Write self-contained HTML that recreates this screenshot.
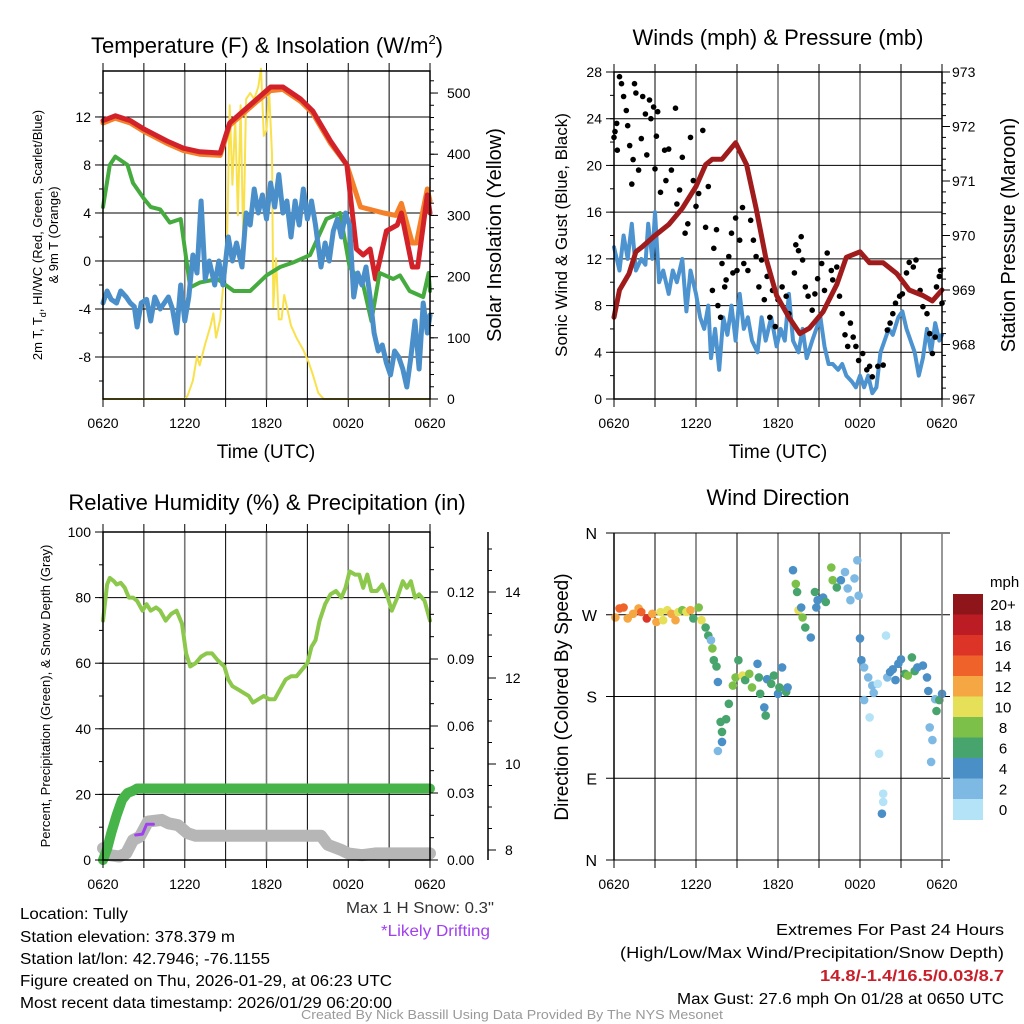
<!DOCTYPE html>
<html><head><meta charset="utf-8"><style>
html,body{margin:0;padding:0;background:#fff;}
svg{display:block;font-family:"Liberation Sans",sans-serif;}
</style></head><body>
<svg id="s" width="1024" height="1024" viewBox="0 0 1024 1024" xmlns="http://www.w3.org/2000/svg">
<rect width="1024" height="1024" fill="#fff"/>
<g id="g"></g>
<g font-size="15.5" fill="#000">
<text x="20" y="919" textLength="108" lengthAdjust="spacingAndGlyphs">Location: Tully</text>
<text x="20" y="942" textLength="215" lengthAdjust="spacingAndGlyphs">Station elevation: 378.379 m</text>
<text x="20" y="964" textLength="250" lengthAdjust="spacingAndGlyphs">Station lat/lon: 42.7946; -76.1155</text>
<text x="20" y="986" textLength="372" lengthAdjust="spacingAndGlyphs">Figure created on Thu, 2026-01-29, at 06:23 UTC</text>
<text x="20" y="1008" textLength="372" lengthAdjust="spacingAndGlyphs">Most recent data timestamp: 2026/01/29 06:20:00</text>
<text x="346" y="913" textLength="148" lengthAdjust="spacingAndGlyphs" fill="#333">Max 1 H Snow: 0.3"</text>
<text x="381" y="936" textLength="109" lengthAdjust="spacingAndGlyphs" fill="#a040f0">*Likely Drifting</text>
<text x="1004" y="935" text-anchor="end" textLength="228" lengthAdjust="spacingAndGlyphs">Extremes For Past 24 Hours</text>
<text x="1004" y="958" text-anchor="end" textLength="384" lengthAdjust="spacingAndGlyphs">(High/Low/Max Wind/Precipitation/Snow Depth)</text>
<text x="1004" y="981" text-anchor="end" textLength="184" lengthAdjust="spacingAndGlyphs" fill="#c8202a" font-weight="bold">14.8/-1.4/16.5/0.03/8.7</text>
<text x="1004" y="1004" text-anchor="end" textLength="327" lengthAdjust="spacingAndGlyphs">Max Gust: 27.6 mph On 01/28 at 0650 UTC</text>
<text x="512" y="1019" text-anchor="middle" font-size="13" fill="#999" textLength="422" lengthAdjust="spacingAndGlyphs">Created By Nick Bassill Using Data Provided By The NYS Mesonet</text>
</g>
<g>
<text x="267" y="53" font-size="22" text-anchor="middle">Temperature (F) &amp; Insolation (W/m<tspan font-size="13" dy="-9">2</tspan><tspan dy="9">)</tspan></text>
<text transform="translate(42,235) rotate(-90)" font-size="13" text-anchor="middle">2m T, T<tspan font-size="9" dy="4">d</tspan><tspan dy="-4">, HI/WC (Red, Green, Scarlet/Blue)</tspan></text>
<text transform="translate(58,235) rotate(-90)" font-size="13" text-anchor="middle">&amp; 9m T (Orange)</text>
</g>
</svg>
<script>
// ---------- data ----------
const timeLabels=["0620","1220","1820","0020","0620"];
const tempT=[0,0.9,2,3,4.7,5.9,7.1,8.6,9.3,10.3,11.3,12.3,13.2,14.5,15.4,16.7,17.9,18.6,19.1,19.6,20,20.8,21.6,21.9,22.7,23.1,23.8,24];
const tempV=[11.7,12.1,11.7,11,10,9.4,9.1,9,11.5,12.5,13.5,14.5,14.5,13.5,12.5,10,8,1,0.5,1,-1.5,2.5,3,4,-0.5,-0.5,5.5,4];
const t9T=[0,0.9,2,3,4.7,5.9,7.1,8.6,9.3,10.3,11.3,12.3,13.2,14.5,15.4,16.7,17.9,18.9,20.6,21.5,21.9,22.7,23,23.8,24];
const t9V=[11.5,11.9,11.5,10.8,9.8,9.2,8.9,8.8,11.3,12.3,13.3,14.2,14.3,13.3,12.3,9.8,8,4.5,4,3.8,4.8,1.5,1.5,6,5];
const dewT=[0,0.5,0.9,1.8,2.2,3,3.5,4.2,4.9,5.7,6.4,7.1,8.4,9.6,10.8,12,13,14,15.2,16.4,17.4,18.1,19.1,19.7,20.3,21.3,21.8,22.5,23.5,23.9,24];
const dewV=[4.5,8,8.7,8,6.5,5.2,4.5,4.3,3.2,3.5,-2.2,-1.8,-1.5,-2.5,-2.5,-1.2,-0.5,-0.1,0.5,3.5,4,-0.5,-2,-5,-1,-1.5,-1.2,-2.5,-3,-1,-2.5];
const wcT=[0,0.3,0.6,1,1.3,1.7,2,2.3,2.5,2.8,3.2,3.5,3.8,4.2,4.5,4.8,5.1,5.4,5.7,6,6.3,6.6,6.9,7.2,7.5,7.8,8.2,8.5,8.8,9.2,9.5,9.8,10.2,10.5,10.8,11.1,11.4,11.7,12,12.3,12.6,12.9,13.2,13.5,13.8,14.1,14.4,14.7,15,15.3,15.6,16,16.3,16.6,16.9,17.2,17.5,17.8,18.1,18.4,18.7,19,19.3,19.6,19.9,20.2,20.5,20.8,21.1,21.4,21.7,22,22.3,22.6,22.9,23.2,23.5,23.8,24];
const wcV=[-3.5,-2.5,-3.2,-3.5,-2.5,-3,-3.5,-3.8,-5.5,-3.5,-3.2,-5,-3,-4,-3.5,-3,-4,-6,-2,-5,-3,0.5,-1,5,-1.5,0,-2,0,-2,2,0,1.5,-0.5,4,3,6,4,5.5,3.5,6.5,4.5,7.2,4,5,2,5,3,6,3.5,5,3,-0.5,1.5,0,2.5,3.5,2,4,3,-3,-1,-2,-0.5,-3,-6,-7.5,-7,-8.5,-9.5,-7.5,-8,-9,-10.5,-8,-5,-9,-3.5,-6,-4.5];
const solT=[0,6,6.2,6.6,6.9,7.1,7.5,7.9,8.1,8.3,8.6,8.8,9.1,9.3,9.5,9.7,9.9,10.1,10.3,10.5,10.8,11.1,11.4,11.6,11.8,12,12.2,12.4,12.5,12.7,12.9,13.1,13.3,13.5,13.8,14.2,14.7,15.1,15.4,15.8,16.2,24];
const solV=[0,0,5,30,70,55,90,120,140,100,130,180,250,480,350,460,300,480,250,490,500,490,510,540,430,440,500,400,150,230,130,130,170,150,120,100,80,60,40,10,0,0];
const presT=[0,0.4,1.1,1.6,2.1,3,4,5,6,6.7,7.2,7.9,8.9,9.7,10.4,11.1,11.9,12.8,13.6,14.3,15.3,16.3,17,18,18.7,19.7,20.7,21.6,22.6,23.3,24];
const presV=[968.5,969.0,969.3,969.7,969.8,970.0,970.2,970.5,970.9,971.3,971.4,971.4,971.7,971.3,970.5,969.6,968.9,968.5,968.2,968.3,968.6,969.1,969.6,969.7,969.5,969.5,969.3,969.0,968.9,968.8,969.0];
const windT=[0,0.4,0.7,1,1.3,1.6,2,2.3,2.5,2.8,3,3.3,3.6,4,4.3,4.6,5,5.3,5.6,6,6.3,6.6,6.9,7.1,7.4,7.7,8,8.3,8.6,8.9,9.2,9.5,9.8,10.1,10.5,10.8,11.1,11.5,11.9,12.2,12.5,12.8,13.1,13.5,13.8,14.1,14.5,14.8,15.1,15.4,15.7,16,16.4,16.7,17,17.4,17.7,18,18.3,18.6,18.9,19.2,19.5,19.8,20.1,20.4,20.8,21.1,21.4,21.7,22,22.3,22.6,22.9,23.2,23.5,23.8,24];
const windV=[13,11,14,12,15,11,12,11.5,15,12,16,10,11,9,11,10,12,7.5,11,9,7,6,8,3.5,6,2.5,7,5.5,8,5,9,6,7,5,4,7,5,7,4.5,6,5,9,5,4,6,3.5,5,6,7,4.5,3,3,2.5,3,2,1.5,1,2,1,2,0.5,1,4,5,6,5.5,7,7.5,6,5,4,2,3.5,6,4,6.5,5,5.5];
const gustT=[0,0.07,0.2,0.24,0.4,0.55,0.7,0.9,1,1.15,1.3,1.4,1.5,1.6,1.8,2,2.1,2.3,2.4,2.6,2.7,2.9,3,3.1,3.2,3.4,3.7,3.8,4,4.2,4.5,4.6,4.8,5,5.2,5.4,5.6,5.8,6,6.2,6.5,6.7,6.9,7.2,7.3,7.5,7.6,7.8,7.9,8.1,8.2,8.4,8.6,8.7,8.9,9,9.2,9.4,9.5,9.8,10,10.2,10.4,10.6,10.8,11,11.2,11.4,11.6,11.8,12,12.3,12.6,12.8,13.2,13.3,13.5,13.7,13.8,14,14.2,14.5,14.7,14.9,15.2,15.4,15.6,15.9,16,16.3,16.5,16.7,16.9,17.1,17.3,17.5,17.7,17.9,18.2,18.5,18.7,18.9,19.3,19.7,20,20.2,20.4,20.6,20.9,21.1,21.4,21.6,21.9,22.1,22.4,22.6,22.9,23.1,23.3,23.5,23.6,23.8,23.9,24];
const gustV=[22.4,22.9,23.6,21.3,27.6,27,25.9,24.7,23.4,21.7,18.4,20.5,27,26.2,19.6,22.3,25.9,24.4,20.9,25.6,24,25,19.7,22.5,24.6,17.7,21.3,18.7,21.4,19.6,24.9,16.7,17.9,20.7,14.2,15,22.4,18.7,16.5,17.6,23,14.7,18.2,9.3,12.9,14.5,8,7,11.6,9.6,10.2,12.2,14.2,10.8,15.5,11,13.6,16.4,11.6,11,15.3,13.6,12.2,9.6,11.9,8.5,10.5,7,9.3,6.2,8.5,9.6,8.8,7.3,10.8,13.2,12.7,13.9,11.9,9.6,8.8,7.6,9,10.3,11.6,9.3,12.5,11,10.2,11.3,8.8,7.3,5.5,4.5,6.5,5.3,4.5,3.3,3.9,2.5,2.8,1.9,2.8,2.9,5.9,6.5,7.3,8.2,8.8,9,10.8,11.7,11.3,11.9,9.3,7.9,7.3,5.6,3.9,5.3,9.6,10.5,11,8.2];
const rhT=[0,0.3,0.5,0.8,1,1.3,1.6,1.9,2.2,2.5,2.9,3.2,3.5,3.9,4.2,4.6,5,5.4,5.8,6.1,6.4,6.8,7.2,7.6,8,8.4,8.9,9.2,9.5,9.9,10.3,10.7,11,11.4,11.8,12.2,12.6,13,13.4,13.8,14.2,14.6,15,15.3,15.6,15.9,16.3,16.7,17.1,17.5,17.8,18.1,18.5,18.8,19.1,19.4,19.7,20.1,20.5,20.9,21.2,21.6,22,22.3,22.6,22.9,23.2,23.6,24];
const rhV=[73,84,86,85,84,84.5,83,80,80,79,76,78,76,77,76,73,75,76,72,63,59,60,62,63,63,61,59,55,53,52,51,50,48,49,50,49,49,52,55,56,56,58,60,65,67,73,78,81,82,80,83,88,87,87,83,87,82,82,84,80,76,80,85,83,85,80,81,79,73];
const precT=[0,0.3,0.6,1,1.4,1.8,2.2,2.5,24];
const precV=[0,0.005,0.012,0.02,0.027,0.03,0.031,0.032,0.032];
const snowT=[0,0.5,1.2,1.7,2.2,2.7,3.3,4.3,4.8,5.5,6.2,6.8,16,16.5,17.5,18,19,20,24];
const snowV=[8.04,7.88,7.85,7.92,8.23,8.31,8.66,8.70,8.62,8.58,8.39,8.33,8.33,8.12,8.0,7.92,7.88,7.92,7.92];
const driftT=[2.4,2.9,3.2,3.7];
const driftV=[8.35,8.37,8.6,8.6];
const dirT=[0.1,0.4,0.7,1,1.4,1.8,2,2.4,2.8,3.1,3.4,3.6,3.9,4.2,4.5,4.7,5,5.3,5.6,5.8,6.2,6.4,6.7,6.9,7.1,7.2,7.3,7.5,7.6,7.8,7.9,7.6,7.9,8.2,8.4,8.7,8.9,9.1,9.4,9.6,9.9,10.1,10.5,10.6,10.7,11,11.1,11.2,11.5,11.7,12,12.1,12.3,12.6,12.7,13.1,13.3,13.4,13.5,13.7,13.8,14,14.4,14.7,14.8,14.9,15.3,15.5,15.9,16,16.3,16.6,16.9,17.1,17.3,17.6,17.8,17.9,18,18.1,18.3,18.6,18.3,18.7,18.9,19,19.3,19.4,19.7,19.7,19.6,19.9,20,20.2,20.4,20.6,20.8,21,21.3,21.5,21.8,22,22.2,22.6,22.9,23,23.1,23.3,23.2,23.5,23.6,23.8,24];
const dirDeg=[267,277,278,266,271,277,273,266,271,262,273,264,275,271,264,273,275,273,275,266,278,264,256,247,242,233,220,213,196,152,141,120,130,155,172,192,201,220,203,198,205,190,216,201,183,168,159,199,194,203,183,190,212,185,190,319,304,295,275,278,267,256,245,295,278,286,289,284,322,308,300,308,317,299,286,310,330,291,244,220,212,201,176,157,192,184,194,117,73,64,51,247,201,207,210,198,216,221,205,203,223,208,212,214,201,186,146,132,108,177,164,176,183];
const dirSpd=[13,15,15,12,13,12,15,16,13,12,11,10,11,12,12,10,8,11,12,7,8,10,6,6,3,8,6,6,4,6,6,2,4,6,6,8,8,6,10,6,8,8,4,6,6,4,6,4,6,6,4,6,4,6,4,4,8,6,10,4,8,6,4,6,4,4,4,6,8,8,6,4,2,2,2,2,2,2,4,4,2,2,2,1,2,2,1,1,1,1,4,1,2,4,4,4,4,4,6,8,6,6,4,4,4,4,2,2,2,2,6,6,4];
const speedLabels=["0","2","4","6","8","10","12","14","16","18","20+"];
const speedColors=["#b4e2f6","#7db9e3","#4a8fc6","#48a46d","#7cc04a","#e6df58","#f5a744","#ef632b","#dc3427","#bc1c24","#8e151a"];

// ---------- helpers ----------
const NS="http://www.w3.org/2000/svg";
const G=document.getElementById('g');
function el(tag,attrs,name,parent){
  const e=document.createElementNS(NS,tag);
  for(const k in attrs)e.setAttribute(k,attrs[k]);
  
  
  (parent||G).appendChild(e);return e;
}
function txt(x,y,s,size,name,opts){
  const e=el('text',Object.assign({x:x,y:y,'font-size':size,fill:'#000'},opts||{}),name);
  e.textContent=s;return e;
}
function makePanel(x0,x1,y0,y1){
  return {x0,x1,y0,y1,X:t=>x0+(x1-x0)*t/24};
}
function lin(v0,v1,p0,p1){return v=>p0+(v-v0)*(p1-p0)/(v1-v0);}
function grid(P,yTicks,Y,name){
  for(let h=3;h<24;h+=3){
    const x=P.X(h);const major=(h%6===0);
    el('line',{x1:x,y1:P.y0,x2:x,y2:P.y1,stroke:major?'#777':'#000','stroke-width':major?1.6:1},name+'-vgrid');
  }
  yTicks.forEach(v=>{const y=Y(v);
    el('line',{x1:P.x0,y1:y,x2:P.x1,y2:y,stroke:'#000','stroke-width':1},name+'-hgrid');});
}
function frame(P,name){
  el('rect',{x:P.x0,y:P.y0,width:P.x1-P.x0,height:P.y1-P.y0,fill:'none',stroke:'#000','stroke-width':1.5},name+'-frame');
  for(let h=0;h<=24;h+=3){const x=P.X(h);
    el('line',{x1:x,y1:P.y1,x2:x,y2:P.y1+8,stroke:'#000','stroke-width':1},name+'-xtick');
    el('line',{x1:x,y1:P.y0,x2:x,y2:P.y0-8,stroke:'#000','stroke-width':1},name+'-xtick-top');}
  timeLabels.forEach((s,i)=>txt(P.X(i*6),P.y1+29,s,14,name+'-xtick-label',{'text-anchor':'middle'}));
}
function poly(P,T,V,Y,stroke,w,name){
  const pts=T.map((t,i)=>P.X(t).toFixed(1)+','+Y(V[i]).toFixed(1)).join(' ');
  return el('polyline',{points:pts,fill:'none',stroke:stroke,'stroke-width':w,'stroke-linejoin':'round','stroke-linecap':'round'},name);
}
function leftTicks(P,Y,major,minor,fmt,name,dx){
  minor.forEach(v=>el('line',{x1:P.x0-4,y1:Y(v),x2:P.x0,y2:Y(v),stroke:'#000','stroke-width':1},name+'-minor-tick'));
  major.forEach(v=>{el('line',{x1:P.x0-8,y1:Y(v),x2:P.x0,y2:Y(v),stroke:'#000','stroke-width':1},name+'-tick');
    txt(P.x0-(dx||12),Y(v)+5,fmt(v),14,name+'-tick-label',{'text-anchor':'end'});});
}
function rightTicks(ax,Y,major,minor,fmt,name,lx,size){
  minor.forEach(v=>el('line',{x1:ax,y1:Y(v),x2:ax+4,y2:Y(v),stroke:'#000','stroke-width':1},name+'-minor-tick'));
  major.forEach(v=>{el('line',{x1:ax,y1:Y(v),x2:ax+8,y2:Y(v),stroke:'#000','stroke-width':1},name+'-tick');
    txt(lx,Y(v)+5,fmt(v),size||14,name+'-tick-label');});
}
function range(a,b,s){const r=[];for(let v=a;v<=b+1e-9;v+=s)r.push(+v.toFixed(4));return r;}

// ---------- Panel 1: Temperature ----------
(function(){
  const P=makePanel(103,430,71,399);
  const Y=lin(-11.5,15.83,399,71);
  const Ys=lin(0,536,399,71);
  grid(P,[-8,-4,0,4,8,12],Y,'temp');
  poly(P,solT,solV,Ys,'#f9e14b',2,'solar-line');
  poly(P,t9T,t9V,Y,'#f4812a',5,'temp-9m-line');
  poly(P,tempT,tempV,Y,'#d3212a',5,'temp-2m-line');
  poly(P,dewT,dewV,Y,'#45ab3f',4,'dewpoint-line');
  poly(P,wcT,wcV,Y,'#4a8fc9',5,'windchill-line');
  frame(P,'temp');
  leftTicks(P,Y,[-8,-4,0,4,8,12],range(-10,14,2),v=>String(v),'temp-y');
  rightTicks(P.x1,Ys,range(0,500,100),range(20,520,20),v=>String(v),'solar-y',447);
  txt(266,458,'Time (UTC)',19,'temp-x-title',{'text-anchor':'middle'});
  txt(0,0,'Solar Insolation (Yellow)',20,'solar-y-title',{'text-anchor':'middle',transform:'translate(501,235) rotate(-90)'});
})();

// ---------- Panel 2: Winds ----------
(function(){
  const P=makePanel(614,942,72,399);
  const Y=lin(0,28,399,72);
  const Yp=lin(967,973,399,72);
  grid(P,[4,8,12,16,20,24],Y,'wind');
  poly(P,windT,windV,Y,'#4c93d0',4,'wind-speed-line');
  gustT.forEach((t,i)=>{
    const c=el('circle',{cx:P.X(t).toFixed(1),cy:Y(gustV[i]).toFixed(1),r:2.8,fill:'#000'},'gust-point');
  });
  poly(P,presT,presV,Yp,'#a01b1b',5,'pressure-line');
  frame(P,'wind');
  leftTicks(P,Y,range(0,28,4),range(2,26,2),v=>String(v),'wind-y');
  rightTicks(P.x1,Yp,range(967,973,1),range(967.2,972.8,0.2),v=>String(v),'pressure-y',952);
  txt(778,45,'Winds (mph) & Pressure (mb)',22,'wind-title',{'text-anchor':'middle'});
  txt(778,458,'Time (UTC)',19,'wind-x-title',{'text-anchor':'middle'});
  txt(0,0,'Sonic Wind & Gust (Blue, Black)',17,'wind-y-title',{'text-anchor':'middle',transform:'translate(567,235) rotate(-90)'});
  txt(0,0,'Station Pressure (Maroon)',20,'pressure-y-title',{'text-anchor':'middle',transform:'translate(1015,235) rotate(-90)'});
})();

// ---------- Panel 3: RH ----------
(function(){
  const P=makePanel(103,430,532,860);
  const Y=lin(0,100,860,532);
  const Yp=lin(0,0.03,860,793);
  const Ysn=lin(8,14,850,592);
  grid(P,[20,40,60,80],Y,'rh');
  poly(P,rhT,rhV,Y,'#8cc84b',4,'rh-line');
  poly(P,snowT,snowV,Ysn,'#b6b6b6',12,'snow-depth-line');
  poly(P,precT,precV,Yp,'#47b449',10,'precip-line');
  poly(P,driftT,driftV,Ysn,'#a040f0',3,'drift-line');
  frame(P,'rh');
  leftTicks(P,Y,range(0,100,20),range(10,90,10),v=>String(v),'rh-y');
  rightTicks(P.x1,Yp,[0,0.03,0.06,0.09,0.12],range(0.01,0.14,0.01),v=>v.toFixed(2),'precip-y',447);
  el('line',{x1:488,y1:532,x2:488,y2:860,stroke:'#000','stroke-width':1.5},'snow-axis-line');
  rightTicks(488,Ysn,[8,10,12,14],range(8.5,15,0.5).filter(v=>Ysn(v)>533),v=>String(v),'snow-y',505);
  txt(267,510,'Relative Humidity (%) & Precipitation (in)',22,'rh-title',{'text-anchor':'middle'});
  txt(0,0,'Percent, Precipitation (Green), & Snow Depth (Gray)',13,'rh-y-title',{'text-anchor':'middle',transform:'translate(50,696) rotate(-90)'});
})();

// ---------- Panel 4: Wind direction ----------
(function(){
  const P=makePanel(614,942,533,860);
  const Y=lin(0,360,860,533);
  grid(P,[],Y,'dir');
  [90,180,270].forEach(v=>el('line',{x1:P.x0-8,y1:Y(v),x2:950,y2:Y(v),stroke:'#000'},'dir-hgrid'));
  el('line',{x1:P.x0-8,y1:533,x2:950,y2:533,stroke:'#000'},'dir-top-line');
  el('line',{x1:P.x0-8,y1:860,x2:950,y2:860,stroke:'#000'},'dir-bottom-line');
  dirT.forEach((t,i)=>{
    const b=Math.min(10,Math.floor(dirSpd[i]/2));
    const c=el('circle',{cx:P.X(t).toFixed(1),cy:Y(dirDeg[i]).toFixed(1),r:4.3,fill:speedColors[b]},'direction-point');
  });
  el('line',{x1:P.x0,y1:533,x2:P.x0,y2:860,stroke:'#000','stroke-width':1.5},'dir-left-axis');
  el('line',{x1:P.x1,y1:533,x2:P.x1,y2:860,stroke:'#777','stroke-width':1.5},'dir-right-line');
  for(let h=0;h<=24;h+=3){const x=P.X(h);
    el('line',{x1:x,y1:860,x2:x,y2:868,stroke:'#000'},'dir-xtick');}
  timeLabels.forEach((s,i)=>txt(P.X(i*6),P.y1+29,s,14,'dir-xtick-label',{'text-anchor':'middle'}));
  const dl=['N','E','S','W','N'];
  [0,90,180,270,360].forEach((v,i)=>txt(597,Y(v)+6,dl[i],16,'dir-tick-label',{'text-anchor':'end'}));
  txt(778,505,'Wind Direction',22,'dir-title',{'text-anchor':'middle'});
  txt(0,0,'Direction (Colored By Speed)',19,'dir-y-title',{'text-anchor':'middle',transform:'translate(568,697) rotate(-90)'});
  const top=594,h=20.5;
  for(let i=0;i<11;i++){
    const idx=10-i;
    el('rect',{x:953,y:top+i*h,width:30,height:h+0.5,fill:speedColors[idx]},'colorbar-box');
    txt(1003,top+i*h+16,speedLabels[idx],15,'colorbar-label',{'text-anchor':'middle'});
  }
  txt(990,587,'mph',15,'colorbar-title');
})();
</script>
</body></html>
